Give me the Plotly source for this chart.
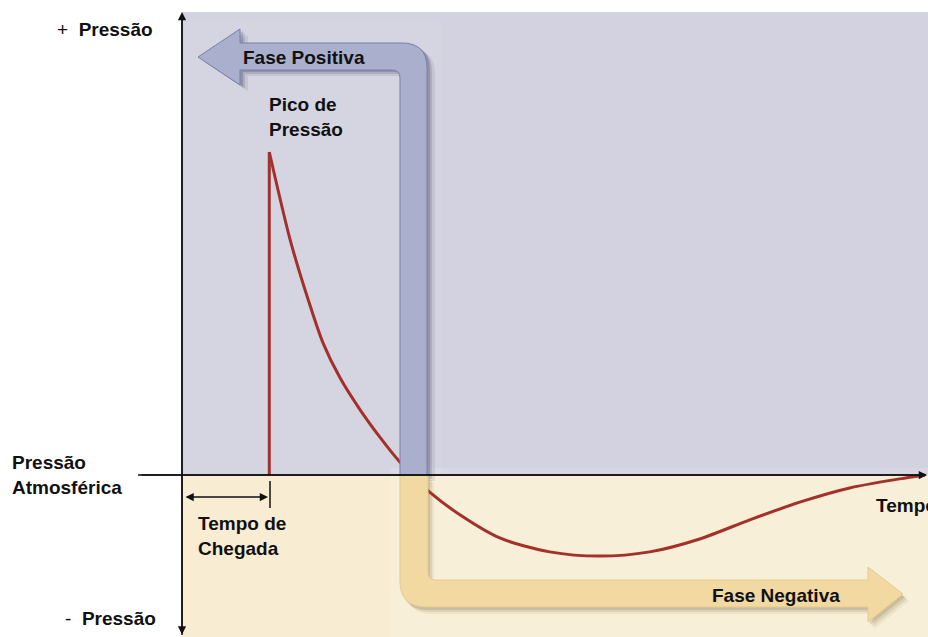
import plotly.graph_objects as go

# ---------------- data (abstract units: time 0-100, pressure peak = 100) ----------------
arrival_time = 11.7
peak_pressure = 100.0
shock_t = [arrival_time, arrival_time]
shock_p = [0.0, peak_pressure]
decay_t = [11.7, 14.5, 16.8, 18.9, 21.2, 23.9, 26.5, 29.2, 30.8, 33.2, 37.3,
           42.6, 49.3, 56.0, 62.7, 69.4, 76.1, 82.8, 89.5, 96.2, 99.6]
decay_p = [100.0, 72.8, 55.1, 40.9, 30.0, 20.1, 11.8, 4.0, 0.0, -5.3, -12.4,
           -19.5, -23.8, -25.1, -23.8, -19.8, -13.9, -8.4, -4.0, -1.2, 0.0]

label_top = "+  <b>Pressão</b>"
label_mid = "<b>Pressão<br>Atmosférica</b>"
label_bot = "-  <b>Pressão</b>"
label_peak = "<b>Pico de<br>Pressão</b>"
label_arrival = "<b>Tempo de<br>Chegada</b>"
label_time = "<b>Tempo</b>"
label_pos = "<b>Fase Positiva</b>"
label_neg = "<b>Fase Negativa</b>"

# ---------------- geometry ----------------
W, H = 928, 637
ORX, ORY = 182, 475          # origin in pixels
TS, PS = 7.46, 3.23          # px per data unit
xr = [-ORX / TS, (W - ORX) / TS]
yr = [-(H - ORY) / PS, ORY / PS]

def fx(x):
    return x / W

def fy(y):
    return 1 - y / H

def path(cmds):
    out = []
    for c in cmds:
        if c[0] == 'Z':
            out.append('Z')
        elif c[0] == 'Q':
            out.append(f"Q{fx(c[1]):.5f},{fy(c[2]):.5f} {fx(c[3]):.5f},{fy(c[4]):.5f}")
        else:
            out.append(f"{c[0]}{fx(c[1]):.5f},{fy(c[2]):.5f}")
    return ' '.join(out)

def shifted(cmds, dx, dy):
    res = []
    for c in cmds:
        if c[0] == 'Z':
            res.append(c)
        elif c[0] == 'Q':
            res.append(('Q', c[1] + dx, c[2] + dy, c[3] + dx, c[4] + dy))
        else:
            res.append((c[0], c[1] + dx, c[2] + dy))
    return res

blue_arrow = [('M', 400, 475), ('L', 400, 78), ('Q', 400, 70, 392, 70), ('L', 240, 70),
              ('L', 240, 85), ('L', 198, 57), ('L', 240, 29), ('L', 240, 43),
              ('L', 402, 43), ('Q', 427, 43, 427, 68), ('L', 427, 475), ('Z',)]
yellow_arrow = [('M', 400, 475), ('L', 400, 581), ('Q', 400, 607, 426, 607), ('L', 868, 607),
                ('L', 868, 622), ('L', 903, 594), ('L', 868, 567), ('L', 868, 580),
                ('L', 436, 580), ('Q', 428, 580, 428, 572), ('L', 428, 475), ('Z',)]

shapes = []
# backgrounds
shapes.append(dict(type='rect', xref='paper', yref='paper', x0=fx(ORX), x1=1, y0=fy(ORY), y1=fy(12),
                   fillcolor='#d2d2e0', line_width=0, layer='below'))
shapes.append(dict(type='rect', xref='paper', yref='paper', x0=fx(ORX), x1=1, y0=0, y1=fy(ORY),
                   fillcolor='#f8edd3', line_width=0, layer='below'))
shapes.append(dict(type='rect', xref='paper', yref='paper', x0=fx(ORX + 1), x1=fx(441), y0=fy(ORY), y1=fy(19),
                   fillcolor='#d5d5e2', line_width=0, layer='below'))
shapes.append(dict(type='rect', xref='paper', yref='paper', x0=fx(390), x1=1, y0=0, y1=fy(468),
                   fillcolor='rgba(255,255,255,0.12)', line_width=0, layer='below'))

# shadows
for (dx, dy, a) in [(8, 6, 0.10), (5, 4, 0.15), (3, 2, 0.22)]:
    shapes.append(dict(type='path', xref='paper', yref='paper', path=path(shifted(blue_arrow, dx, dy)),
                       fillcolor=f'rgba(50,50,80,{a})', line_width=0, layer='above'))
for (dx, dy, a) in [(6, 7, 0.08), (4, 5, 0.12), (2, 3, 0.18)]:
    shapes.append(dict(type='path', xref='paper', yref='paper', path=path(shifted(yellow_arrow, dx, dy)),
                       fillcolor=f'rgba(110,90,50,{a})', line_width=0, layer='above'))
# arrows
shapes.append(dict(type='path', xref='paper', yref='paper', path=path(blue_arrow),
                   fillcolor='#a9afcd', line=dict(color='#7880ab', width=1), layer='above'))
shapes.append(dict(type='path', xref='paper', yref='paper', path=path(yellow_arrow),
                   fillcolor='#f1d9a1', line=dict(color='#e6cb8e', width=1), layer='above'))

# axis lines
shapes.append(dict(type='line', xref='paper', yref='paper', x0=fx(138), x1=fx(926), y0=fy(ORY), y1=fy(ORY),
                   line=dict(color='#111111', width=1.5), layer='above'))
shapes.append(dict(type='line', xref='paper', yref='paper', x0=fx(ORX), x1=fx(ORX), y0=fy(14), y1=fy(635),
                   line=dict(color='#111111', width=1.5), layer='above'))
# arrival tick
shapes.append(dict(type='line', xref='paper', yref='paper', x0=fx(270), x1=fx(270), y0=fy(481), y1=fy(508),
                   line=dict(color='#111111', width=1.5), layer='above'))

fig = go.Figure()
fig.add_trace(go.Scatter(x=shock_t, y=shock_p, mode='lines',
                         line=dict(color='#a3302a', width=3), hoverinfo='skip'))
fig.add_trace(go.Scatter(x=decay_t, y=decay_p, mode='lines',
                         line=dict(color='#a3302a', width=3, shape='spline', smoothing=0.8),
                         hoverinfo='skip'))

FONT = 'Liberation Sans, Arial, sans-serif'
ann = []

def text(x, y, t, xanchor='left', size=19):
    ann.append(dict(xref='paper', yref='paper', x=fx(x), y=fy(y), text=t, showarrow=False,
                    xanchor=xanchor, yanchor='middle', align=xanchor if xanchor != 'center' else 'center',
                    font=dict(family=FONT, size=size, color='#111111')))

text(155, 30, label_top, 'right')
text(10, 475, label_mid, 'left')
text(158, 618, label_bot, 'right')
text(267, 117, label_peak, 'left')
text(196, 536, label_arrival, 'left')
text(874, 505, label_time, 'left')
text(304, 57, label_pos, 'center')
text(776, 595, label_neg, 'center')

def arrow(x_head, y_head, x_tail, y_tail, both=False):
    d = dict(xref='paper', yref='paper', x=fx(x_head), y=fy(y_head), text='', showarrow=True,
             axref='pixel', ayref='pixel', ax=x_tail - x_head, ay=y_tail - y_head,
             arrowhead=2, arrowsize=1.1, arrowwidth=1.5, arrowcolor='#111111', standoff=0)
    if both:
        d.update(arrowside='end+start', startarrowhead=2, startarrowsize=1.1, startstandoff=0)
    ann.append(d)

arrow(ORX, 12, ORX, 636, both=True)
arrow(928, ORY, 140, ORY)
arrow(268, 497, 184, 497, both=True)

fig.update_layout(
    width=W, height=H, margin=dict(l=0, r=0, t=0, b=0),
    paper_bgcolor='white', plot_bgcolor='rgba(0,0,0,0)',
    showlegend=False, shapes=shapes, annotations=ann,
    xaxis=dict(range=xr, visible=False, fixedrange=True),
    yaxis=dict(range=yr, visible=False, fixedrange=True),
)
fig.write_html("out.html", config={'displayModeBar': False},
               post_script="document.body.style.margin='0px';document.body.style.overflow='hidden';")
